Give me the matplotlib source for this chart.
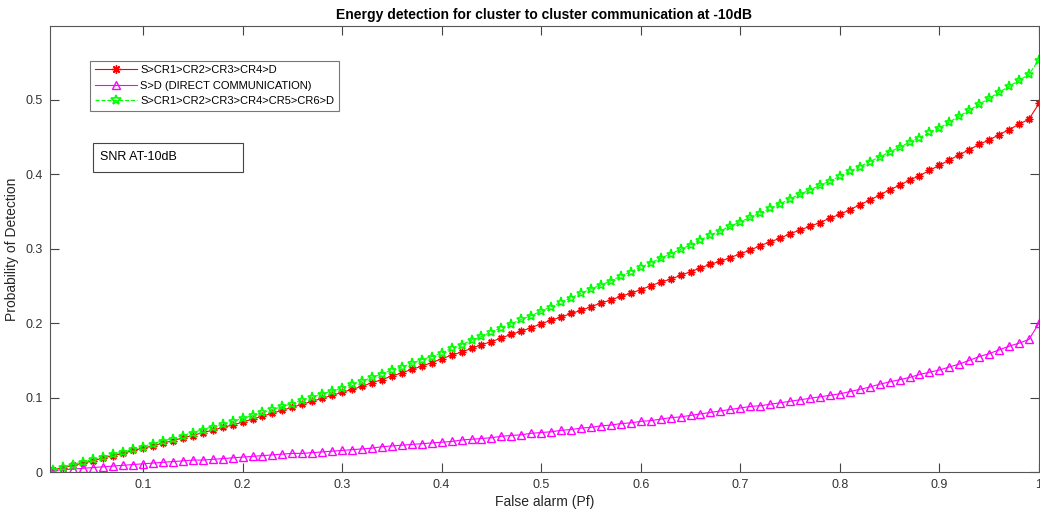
import numpy as np
import matplotlib
matplotlib.use("Agg")
import matplotlib.pyplot as plt
from matplotlib.patches import Rectangle

plt.rcParams['font.family'] = ['Liberation Sans', 'DejaVu Sans']

# probabilite de fausse alarme, 0.01 a 1 par pas de 0.01
pf = [round(0.01 * k, 2) for k in range(1, 101)]

# S>CR1>CR2>CR3>CR4>D
pd_4relais = [
    0.003, 0.006, 0.009, 0.012, 0.015, 0.019, 0.022, 0.025, 0.029, 0.032,
    0.035, 0.039, 0.042, 0.046, 0.049, 0.053, 0.056, 0.060, 0.063, 0.067,
    0.071, 0.075, 0.079, 0.083, 0.087, 0.091, 0.095, 0.099, 0.103, 0.107,
    0.111, 0.115, 0.120, 0.124, 0.129, 0.133, 0.138, 0.142, 0.147, 0.152,
    0.157, 0.161, 0.166, 0.171, 0.175, 0.180, 0.185, 0.189, 0.194, 0.199,
    0.204, 0.208, 0.213, 0.217, 0.222, 0.227, 0.231, 0.236, 0.240, 0.245,
    0.250, 0.255, 0.259, 0.264, 0.269, 0.274, 0.279, 0.283, 0.288, 0.293,
    0.298, 0.304, 0.309, 0.314, 0.320, 0.325, 0.330, 0.335, 0.341, 0.346,
    0.352, 0.359, 0.365, 0.372, 0.379, 0.385, 0.392, 0.398, 0.405, 0.412,
    0.419, 0.426, 0.433, 0.440, 0.446, 0.453, 0.460, 0.467, 0.474, 0.495,
]

# S>D (communication directe)
pd_direct = [
    0.002, 0.003, 0.004, 0.005, 0.006, 0.007, 0.008, 0.009, 0.010, 0.011,
    0.012, 0.013, 0.014, 0.015, 0.016, 0.016, 0.017, 0.018, 0.019, 0.020,
    0.021, 0.022, 0.023, 0.024, 0.025, 0.025, 0.026, 0.027, 0.028, 0.029,
    0.030, 0.031, 0.032, 0.034, 0.035, 0.036, 0.037, 0.038, 0.039, 0.040,
    0.041, 0.043, 0.044, 0.045, 0.046, 0.048, 0.049, 0.050, 0.052, 0.053,
    0.054, 0.056, 0.057, 0.059, 0.060, 0.062, 0.063, 0.065, 0.066, 0.068,
    0.069, 0.071, 0.073, 0.074, 0.076, 0.078, 0.080, 0.082, 0.084, 0.086,
    0.088, 0.089, 0.091, 0.093, 0.095, 0.097, 0.099, 0.101, 0.103, 0.105,
    0.108, 0.111, 0.114, 0.118, 0.121, 0.124, 0.127, 0.131, 0.134, 0.137,
    0.141, 0.145, 0.150, 0.155, 0.159, 0.164, 0.169, 0.173, 0.178, 0.200,
]

# S>CR1>CR2>CR3>CR4>CR5>CR6>D
pd_6relais = [
    0.003, 0.007, 0.010, 0.014, 0.017, 0.020, 0.024, 0.027, 0.031, 0.034,
    0.038, 0.042, 0.045, 0.049, 0.053, 0.057, 0.061, 0.064, 0.068, 0.072,
    0.076, 0.080, 0.084, 0.088, 0.092, 0.097, 0.101, 0.105, 0.109, 0.113,
    0.118, 0.122, 0.127, 0.132, 0.137, 0.141, 0.146, 0.151, 0.155, 0.160,
    0.166, 0.171, 0.177, 0.182, 0.188, 0.194, 0.199, 0.205, 0.210, 0.216,
    0.222, 0.228, 0.234, 0.240, 0.246, 0.251, 0.257, 0.263, 0.269, 0.275,
    0.281, 0.287, 0.293, 0.299, 0.305, 0.312, 0.318, 0.324, 0.330, 0.336,
    0.342, 0.348, 0.354, 0.360, 0.367, 0.373, 0.379, 0.385, 0.391, 0.397,
    0.404, 0.410, 0.417, 0.423, 0.430, 0.436, 0.443, 0.449, 0.456, 0.462,
    0.470, 0.478, 0.486, 0.494, 0.502, 0.510, 0.518, 0.526, 0.534, 0.554,
]

noms = ['S>CR1>CR2>CR3>CR4>D', 'S>D (DIRECT COMMUNICATION)',
        'S>CR1>CR2>CR3>CR4>CR5>CR6>D']
xticks = [0.1, 0.2, 0.3, 0.4, 0.5, 0.6, 0.7, 0.8, 0.9, 1.0]
xticklabels = ['0.1', '0.2', '0.3', '0.4', '0.5', '0.6', '0.7', '0.8', '0.9', '1']
yticks = [0, 0.1, 0.2, 0.3, 0.4, 0.5]
yticklabels = ['0', '0.1', '0.2', '0.3', '0.4', '0.5']

fig = plt.figure(figsize=(10.4, 5.14), dpi=100)
ax = fig.add_axes([0.048, 0.0817, 0.951, 0.8677])

ax.plot(pf, pd_4relais, color='red', linestyle='-', linewidth=0.8,
        marker=(8, 2, 0), markersize=5.5, markeredgewidth=1, label=noms[0])
ax.plot(pf, pd_direct, color='magenta', linestyle='-', linewidth=0.8,
        marker='^', markersize=5.5, markerfacecolor='none', markeredgewidth=1,
        label=noms[1])
ax.plot(pf, pd_6relais, color='lime', linestyle='--', linewidth=0.8,
        marker='*', markersize=6.5, markerfacecolor='none', markeredgewidth=1.2,
        label=noms[2])

ax.set_xlim(0.0065, 1.0)
ax.set_ylim(0, 0.599)
ax.set_xticks(xticks)
ax.set_xticklabels(xticklabels)
ax.set_yticks(yticks)
ax.set_yticklabels(yticklabels)
ax.tick_params(direction='in', top=True, right=True, length=6.5, width=0.8,
               color='#444444', labelcolor='#333333', labelsize=9, pad=5)
for s in ax.spines.values():
    s.set_color('#555555')
    s.set_linewidth(0.8)

ax.set_title('Energy detection for cluster to cluster communication at -10dB',
             fontsize=10, fontweight='bold', pad=5)
ax.set_xlabel('False alarm (Pf)', fontsize=10, color='#262626', labelpad=3)
ax.set_ylabel('Probability of Detection', fontsize=10, color='#262626', labelpad=5)

leg = ax.legend(loc='upper left', bbox_to_anchor=(0.041, 0.922), borderaxespad=0,
                fontsize=8, frameon=True, fancybox=False, handlelength=3.8,
                handletextpad=0.3, labelspacing=0.5, borderpad=0.4,
                markerscale=1.1)
leg.get_frame().set_edgecolor('#555555')
leg.get_frame().set_linewidth(0.8)

# boite de texte SNR
ax.add_patch(Rectangle((0.0435, 0.6726), 0.1517, 0.065, transform=ax.transAxes,
                       fill=False, edgecolor='#444444', linewidth=0.8))
ax.text(0.0505, 0.706, 'SNR AT-10dB', transform=ax.transAxes, fontsize=9,
        va='center', ha='left')

fig.savefig('out.png', dpi=100)
